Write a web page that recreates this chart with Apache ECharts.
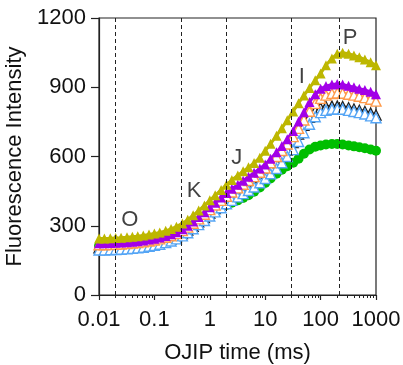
<!DOCTYPE html>
<html>
<head>
<meta charset="utf-8">
<script src="https://cdn.jsdelivr.net/npm/echarts@6/dist/echarts.min.js"></script>
<style>html,body{margin:0;padding:0;background:#fff;}#chart{width:403px;height:365px;}</style>
</head>
<body>
<div id="chart"></div>
<script>
// time points (ms)
const times = [0.01,0.0125,0.016,0.02,0.025,0.032,0.04,0.05,0.063,0.08,
  0.1,0.125,0.16,0.2,0.25,0.32,0.4,0.5,0.63,0.8,
  1,1.25,1.6,2,2.5,3.2,4,5,6.3,8,
  10,12.5,16,20,25,32,40,50,63,80,
  100,125,160,200,250,320,400,500,630,800,1000];

const olive  = [245,245,246,247,248,250,252,255,258,262,266,271,278,286,296,310,326,345,366,388,410,432,455,478,498,518,536,553,572,595,625,655,690,722,757,795,831,864,897,930,960,995,1025,1045,1050,1045,1038,1030,1020,1008,995];
const purple = [224,224,225,226,227,229,231,233,236,240,244,249,256,263,272,285,300,318,338,358,380,400,422,442,460,478,495,512,530,548,565,590,618,645,675,710,752,792,836,870,893,905,912,914,912,906,900,894,888,880,870];
const orange = [218,218,219,220,221,223,225,227,230,234,238,243,250,257,266,279,294,311,330,350,370,390,410,428,446,464,480,496,513,532,550,573,600,626,654,686,722,758,796,830,852,866,873,875,874,870,866,861,855,848,840];
const black  = [205,205,206,207,208,210,212,214,217,221,225,230,237,244,253,266,281,298,317,336,355,374,393,410,427,443,458,473,490,508,528,550,575,600,628,660,697,735,770,797,810,816,818,818,816,811,806,800,795,788,780];
const blue   = [195,195,196,197,198,200,202,204,207,211,215,220,227,234,243,256,270,287,305,323,342,360,378,395,410,425,439,453,468,486,505,525,548,573,600,630,665,703,740,772,790,800,805,806,805,800,795,790,784,776,768];
const green  = [212,212,213,214,215,217,219,221,224,228,232,237,244,251,260,272,286,302,320,337,353,367,380,390,400,410,420,432,447,466,485,505,525,543,558,573,590,612,630,642,648,652,654,654,652,648,644,640,636,630,625];

// phase markers
const phaseNames = ['O','K','J','I','P'];
const phaseTimes = [0.02, 0.3, 2, 30, 220];
const phaseLabelX = [0.036, 0.52, 3.06, 45.6, 340];
const phaseLabelY = [325, 450, 593, 946, 1112];

// ticks
const xTickValues = [0.01, 0.1, 1, 10, 100, 1000];
const xTickLabels = ['0.01', '0.1', '1', '10', '100', '1000'];
const yTicks = [0, 300, 600, 900, 1200];

const minorTicks = [];
for (let d = 0.01; d < 1000; d *= 10) {
  for (let k = 2; k <= 9; k++) minorTicks.push(+(d * k).toPrecision(3));
}

const FONT = 'Liberation Sans, Arial, sans-serif';
const AX = '#222';

function pairs(vals) { return times.map((t, i) => [t, vals[i]]); }

function mkSeries(name, vals, color, symbol, filled) {
  return {
    name, type: 'line', xAxisIndex: 0, yAxisIndex: 0,
    data: pairs(vals),
    symbol, symbolSize: 10, showSymbol: true,
    lineStyle: { color, width: 3 },
    itemStyle: filled ? { color, borderColor: color, borderWidth: 0 }
                      : { color: '#fff', borderColor: color, borderWidth: 1.4 },
    z: 3, animation: false, silent: true
  };
}

const chart = echarts.init(document.getElementById('chart'), null, { renderer: 'canvas' });
const gridPos = { left: 99, right: 27, top: 18, bottom: 70, containLabel: false, outerBoundsMode: 'none' };

chart.setOption({
  animation: false,
  textStyle: { fontFamily: FONT },
  grid: [
    Object.assign({ show: true, borderColor: AX, borderWidth: 1.2, backgroundColor: 'transparent' }, gridPos),
    Object.assign({ show: false }, gridPos)
  ],
  xAxis: [{
    type: 'log', logBase: 10, gridIndex: 0, min: 0.01, max: 1000,
    name: 'OJIP time (ms)', nameLocation: 'middle', nameGap: 47,
    nameTextStyle: { fontSize: 22, color: '#111', fontFamily: FONT },
    axisLine: { show: true, lineStyle: { color: AX, width: 1.2 } },
    axisTick: { show: true, length: 5, lineStyle: { color: AX, width: 1.2 }, customValues: xTickValues },
    axisLabel: { fontSize: 22, color: '#111', margin: 14, fontFamily: FONT,
      customValues: xTickValues,
      formatter: v => { const i = xTickValues.findIndex(x => Math.abs(Math.log10(x) - Math.log10(v)) < 1e-6); return i >= 0 ? xTickLabels[i] : ''; } },
    splitLine: { show: false }, minorTick: { show: false }
  }, {
    type: 'log', logBase: 10, gridIndex: 1, min: 0.01, max: 1000,
    axisLine: { show: false },
    axisTick: { show: true, length: 3, lineStyle: { color: AX, width: 1 }, customValues: minorTicks },
    axisLabel: { show: false },
    splitLine: { show: false }
  }],
  yAxis: [{
    type: 'value', gridIndex: 0, min: 0, max: 1200, interval: 300,
    name: 'Fluorescence Intensity', nameLocation: 'middle', nameGap: 69, nameRotate: 90,
    nameTextStyle: { fontSize: 22, color: '#111', fontFamily: FONT },
    axisLine: { show: true, lineStyle: { color: AX, width: 1.2 } },
    axisTick: { show: true, length: 8, lineStyle: { color: AX, width: 1.2 } },
    axisLabel: { fontSize: 22, color: '#111', margin: 13, fontFamily: FONT, formatter: v => String(v) },
    splitLine: { show: false }
  }, {
    type: 'value', gridIndex: 1, min: 0, max: 1200, show: false
  }],
  series: [
    {
      type: 'line', xAxisIndex: 0, yAxisIndex: 0, data: [], z: 1, silent: true,
      markLine: {
        silent: true, symbol: ['none', 'none'], label: { show: false },
        lineStyle: { type: [4, 3], color: '#222', width: 1 },
        data: phaseTimes.map(t => ({ xAxis: t })), animation: false
      }
    },
    mkSeries('green', green, '#00BE00', 'circle', true),
    mkSeries('black', black, '#222222', 'triangle', false),
    mkSeries('blue', blue, '#55A5F5', 'triangle', false),
    mkSeries('orange', orange, '#FF9A4A', 'triangle', false),
    mkSeries('purple', purple, '#A200E8', 'triangle', true),
    mkSeries('olive', olive, '#BDB700', 'triangle', true),
    {
      type: 'scatter', xAxisIndex: 0, yAxisIndex: 0, symbolSize: 0, z: 5, silent: true,
      data: phaseNames.map((n, i) => [phaseLabelX[i], phaseLabelY[i], n]),
      label: { show: true, position: 'inside', formatter: p => p.data[2], fontSize: 22, color: '#111', fontFamily: FONT }
    }
  ]
});
</script>
</body>
</html>
